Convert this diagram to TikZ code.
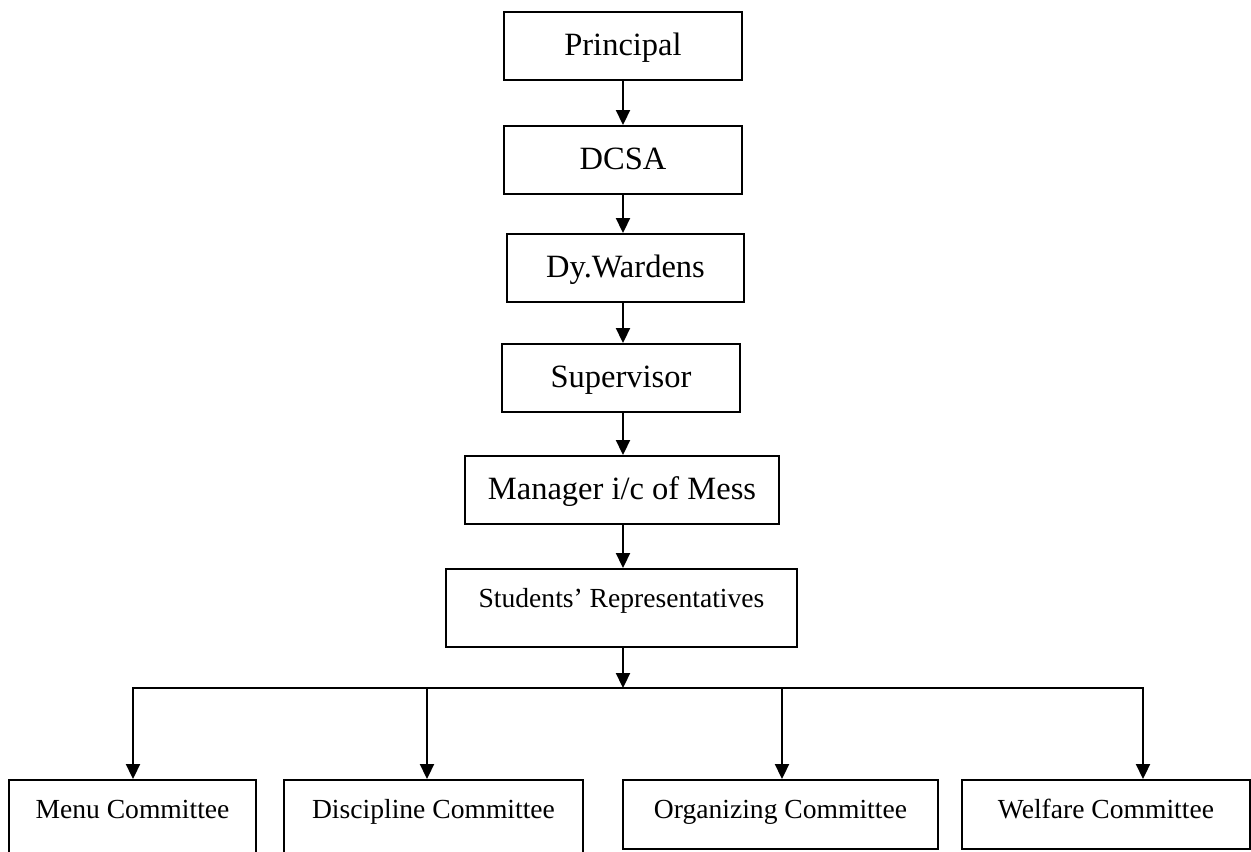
\documentclass[tikz,border=0pt]{standalone}
\usepackage{fontspec}
\setmainfont{Liberation Serif}
\usetikzlibrary{arrows.meta}
\begin{document}
\begin{tikzpicture}[x=0.02cm, y=-0.02cm,
        box/.style={draw, line width=1pt, inner sep=0pt, text height=0.88cm, text depth=0.48cm,
            font=\fontsize{18.5}{22}\selectfont},
        cbox/.style={draw, line width=1pt, inner sep=0pt, text height=0.78cm, text depth=0.78cm,
            font=\fontsize{15.7}{19}\selectfont},
        lowbox/.style={cbox, text depth=0.6cm}, 
        link/.style={line width=1pt, -{Triangle[length=8.5pt, width=8pt]}}]
        \useasboundingbox (0,0) rectangle (1251,852);
        % chain of posts
        \node[box, minimum width=4.76cm, anchor=north] (principal) at (623,11) {Principal};
        \node[box, minimum width=4.76cm, anchor=north] (dcsa) at (623,125) {DCSA};
        \node[box, minimum width=4.74cm, anchor=north] (wardens) at (625.5,233) {Dy.Wardens};
        \node[box, minimum width=4.76cm, anchor=north] (supervisor) at (621,343) {Supervisor};
        \node[box, minimum width=6.28cm, anchor=north] (manager) at (622,455) {Manager i/c of Mess};
        \node[cbox, minimum width=7.02cm, anchor=north] (students) at (621.5,568) {Students’ Representatives};
        % committees
        \node[cbox, minimum width=4.94cm, anchor=north] (menu) at (132.5,779) {Menu Committee};
        \node[cbox, minimum width=5.98cm, anchor=north] (discipline) at (433.5,779) {Discipline Committee};
        \node[lowbox, minimum width=6.3cm, anchor=north] (organizing) at (780.5,779) {Organizing Committee};
        \node[lowbox, minimum width=5.76cm, anchor=north] (welfare) at (1106,779) {Welfare Committee};
        % arrows down the chain
        \draw[link] (principal.south -| 623,0) -- (dcsa.north -| 623,0);
        \draw[link] (dcsa.south -| 623,0) -- (wardens.north -| 623,0);
        \draw[link] (wardens.south -| 623,0) -- (supervisor.north -| 623,0);
        \draw[link] (supervisor.south -| 623,0) -- (manager.north -| 623,0);
        \draw[link] (manager.south -| 623,0) -- (students.north -| 623,0);
        % branch to the committees
        \coordinate (bus) at (623,688);
        \coordinate (dropM) at (133,688);
        \coordinate (dropD) at (427,688);
        \coordinate (dropO) at (782,688);
        \coordinate (dropW) at (1143,688);
        \draw[link] (students.south -| bus) -- (bus);
        \draw[link] (bus) -- (dropM) -- (dropM |- menu.north);
        \draw[link] (bus) -- (dropW) -- (dropW |- welfare.north);
        \draw[link] (dropD) -- (dropD |- discipline.north);
        \draw[link] (dropO) -- (dropO |- organizing.north);
    \end{tikzpicture}
\end{document}
